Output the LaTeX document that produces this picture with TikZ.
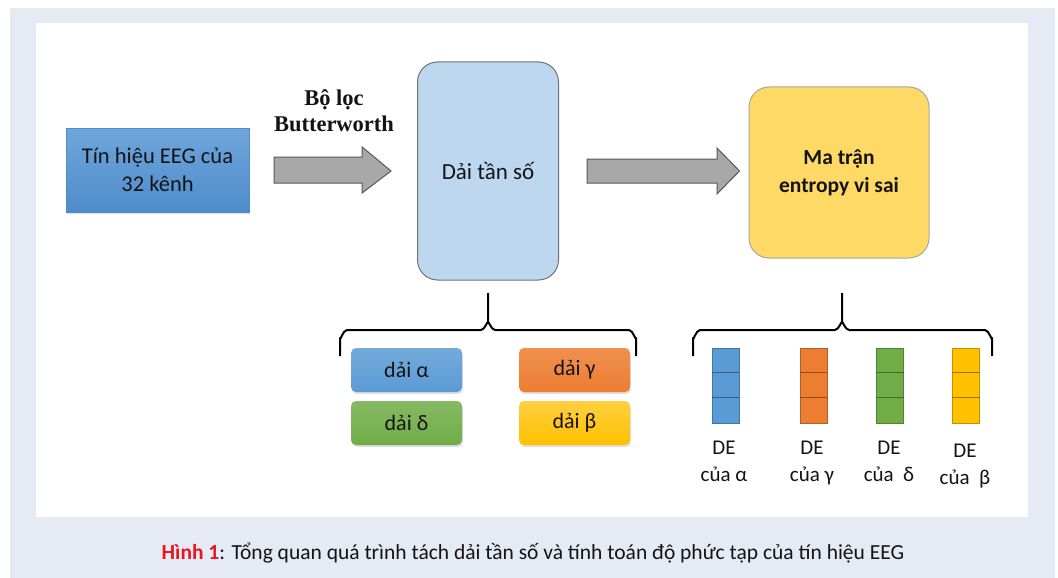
\documentclass[tikz,border=0pt]{standalone}
\usepackage{fontspec}
\setmainfont{Carlito}
\newfontfamily\serifb{Liberation Serif}
\usetikzlibrary{calc,shadows}
\definecolor{lav}{HTML}{E6EAF5}
\definecolor{bluetop}{HTML}{6FA6DC}
\definecolor{bluebot}{HTML}{4F8CCB}
\definecolor{lightblue}{HTML}{BDD7EE}
\definecolor{yel}{HTML}{FFD966}
\definecolor{orangec}{HTML}{ED7D31}
\definecolor{greenc}{HTML}{70AD47}
\definecolor{goldc}{HTML}{FFC000}
\definecolor{bluec}{HTML}{5B9BD5}
\definecolor{arrgray}{HTML}{A8A8A8}
\definecolor{txt}{HTML}{141414}
\definecolor{capred}{HTML}{E8171E}
\tikzset{
  softshadow/.style={drop shadow={opacity=0.25,shadow xshift=1pt,shadow yshift=-2pt}},
  bigbox/.style={rounded corners=20pt,draw=#1,line width=1pt,text=txt,align=center,font=\fontsize{23}{27}\selectfont},
  band/.style={rounded corners=5pt,minimum width=111pt,minimum height=44pt,text=txt,font=\fontsize{22}{23}\selectfont,softshadow,inner sep=0pt},
  blockarrow/.style={fill=arrgray,draw=black!65,line width=1pt},
  brace/.style={line width=2pt,line join=round},
  bar/.style={minimum width=27pt,minimum height=75pt,inner sep=0pt,line width=0.8pt},
  delabel/.style={text=txt,align=center,font=\fontsize{21}{27}\selectfont},
}
\begin{document}
\begin{tikzpicture}[x=1pt,y=-1pt]
\useasboundingbox (0,0) rectangle (1058,578);
\fill[white] (0,0) rectangle (1058,578);
\fill[lav] (10,8) rectangle (1055,578);
\fill[white] (36,23) rectangle (1028,517);

% main boxes
\node[minimum width=183pt,minimum height=84pt,top color=bluetop,bottom color=bluebot,
  draw=bluebot,line width=0.3pt,text=txt,align=center,softshadow,
  font=\fontsize{22.5}{28}\selectfont] (eeg) at (157.5,170) {Tín hiệu EEG của\\32 kênh};
\node[bigbox=black!55,fill=lightblue,minimum width=141pt,minimum height=218pt] (dai) at (488,171) {Dải tần số};
\node[bigbox=black!35,fill=yel,minimum width=180pt,minimum height=171pt,font=\bfseries\fontsize{21.5}{28}\selectfont] (mt) at (839,172.5) {Ma trận\\entropy vi sai};

% filter label
\node[font=\serifb\bfseries\fontsize{22.5}{26}\selectfont,text=txt,align=center] (bl) at (334,111) {Bộ lọc\\Butterworth};

% block arrows
\draw[blockarrow] ($(eeg.east)+(25,-13)$) -- ($(eeg.east)+(113,-13)$) -- ($(eeg.east)+(113,-23)$)
  -- ($(dai.west)+(-26,0)$) -- ($(eeg.east)+(113,23)$) -- ($(eeg.east)+(113,13)$)
  -- ($(eeg.east)+(25,13)$) -- cycle;
\draw[blockarrow] ($(dai.east)+(28,-12)$) -- ($(dai.east)+(158,-12)$) -- ($(dai.east)+(158,-23)$)
  -- ($(mt.west)+(-9,-1.5)$) -- ($(dai.east)+(158,23)$) -- ($(dai.east)+(158,12)$)
  -- ($(dai.east)+(28,12)$) -- cycle;

% bands
\node[band,top color=bluec!85!white,bottom color=bluec] (alpha) at (406.5,370) {dải α};
\node[band,top color=greenc!85!white,bottom color=greenc] (delta) at (406.5,423) {dải δ};
\node[band,top color=orangec!85!white,bottom color=orangec] (gamma) at (574.5,370) {dải γ};
\node[band,top color=goldc!75!white,bottom color=goldc] (beta) at (574.5,423) {dải β};

% brace 1
\draw[brace] (340,356) -- (340,338) to[out=-90,in=180] (347,330) -- (481,330) to[out=0,in=90] (488,323) -- (488,293);
\draw[brace] (488,323) to[out=90,in=180] (495,330) -- (629,330) to[out=0,in=-90] (636,338) -- (636,356);

% brace 2
\draw[brace] (693,356) -- (693,338) to[out=-90,in=180] (700,330) -- (835,330) to[out=0,in=90] (842,323) -- (842,293);
\draw[brace] (842,323) to[out=90,in=180] (849,330) -- (985,330) to[out=0,in=-90] (992,338) -- (992,356);

% bars
\foreach \n/\x/\c in {ba/725.5/bluec, bg/813.5/orangec, bd/890/greenc, bb/966/goldc}{
  \node[bar,fill=\c,draw=\c!75!black] (\n) at (\x,385.5) {};
  \draw[\c!60!black,line width=1pt] ($(\n.north west)+(0,25)$) -- ($(\n.north east)+(0,25)$);
  \draw[\c!60!black,line width=1pt] ($(\n.north west)+(0,50)$) -- ($(\n.north east)+(0,50)$);
}
\node[delabel] (la) at (724,461) {DE\\của α};
\node[delabel] (lg) at (812,463) {DE\\của γ};
\node[delabel] (ld) at (889,461) {DE\\của~ δ};
\node[delabel] (lb) at (965,466) {DE\\của~ β};

% caption
\node[font=\fontsize{21.5}{24}\selectfont,text=txt] (cap) at (533,553)
  {{\color{capred}\bfseries Hình 1}: Tổng quan quá trình tách dải tần số và tính toán độ phức tạp của tín hiệu EEG};
\end{tikzpicture}
\end{document}
